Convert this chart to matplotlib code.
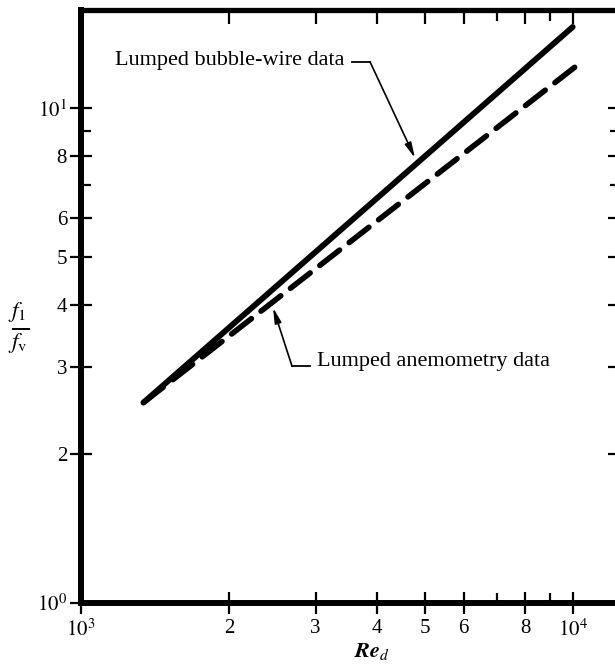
import matplotlib
matplotlib.use("Agg")
import matplotlib.pyplot as plt
from matplotlib.ticker import FixedLocator, NullFormatter, FixedFormatter

plt.rcParams['font.family'] = ['Liberation Serif', 'DejaVu Serif']
plt.rcParams['mathtext.fontset'] = 'stix'

# ---- data ----
re_solid = [1340, 10000]
ratio_solid = [2.54, 14.6]
re_dash = [1340, 10200]
ratio_dash = [2.54, 12.2]

x_major = [1e3, 2e3, 3e3, 4e3, 5e3, 6e3, 8e3, 1e4]
x_major_labels = ['$10^3$', '2', '3', '4', '5', '6', '8', '$10^4$']
x_minor = [7e3, 9e3]
y_major = [1, 2, 3, 4, 5, 6, 8, 10]
y_major_labels = ['$10^0$', '2', '3', '4', '5', '6', '8', '$10^1$']
y_minor = [7, 9]

label_bubble = 'Lumped bubble-wire data'
label_anemo = 'Lumped anemometry data'

fig = plt.figure(figsize=(6.15, 6.72), dpi=100)
W, H = 615, 672
ax = fig.add_axes([81 / W, 69.3 / H, (620 - 81) / W, (602.7 - 10) / H])
ax.set_xscale('log')
ax.set_yscale('log')
ax.set_xlim(1e3, 10 ** (3 + (620 - 81) / 491.7))
ax.set_ylim(1, 15.8)

ax.plot(re_solid, ratio_solid, color='black', lw=4.2, solid_capstyle='round')
ax.plot(re_dash, ratio_dash, color='black', lw=4.0, linestyle=(0, (4.5, 2.2)),
        dash_capstyle='round')

for s in ax.spines.values():
    s.set_linewidth(4.3)
ax.spines['top'].set_linewidth(3.8)

ax.xaxis.set_major_locator(FixedLocator(x_major))
ax.xaxis.set_major_formatter(FixedFormatter(x_major_labels))
ax.xaxis.set_minor_locator(FixedLocator(x_minor))
ax.xaxis.set_minor_formatter(NullFormatter())
ax.yaxis.set_major_locator(FixedLocator(y_major))
ax.yaxis.set_major_formatter(FixedFormatter(y_major_labels))
ax.yaxis.set_minor_locator(FixedLocator(y_minor))
ax.yaxis.set_minor_formatter(NullFormatter())

ax.tick_params(which='major', direction='inout', length=16, width=1.6,
               labelsize=15, pad=2)
ax.tick_params(which='minor', direction='in', length=7, width=1.6)
ax.tick_params(axis='x', pad=4)

# top & right ticks (inward)
axt = ax.twiny()
axt.set_xscale('log')
axt.set_xlim(ax.get_xlim())
axt.xaxis.set_major_locator(FixedLocator(x_major))
axt.xaxis.set_minor_locator(FixedLocator(x_minor))
axt.xaxis.set_major_formatter(NullFormatter())
axt.xaxis.set_minor_formatter(NullFormatter())
axt.tick_params(which='major', direction='in', length=10, width=1.6)
axt.tick_params(which='minor', direction='in', length=8, width=1.6)
for s in axt.spines.values():
    s.set_visible(False)

axr = ax.twinx()
axr.set_yscale('log')
axr.set_ylim(ax.get_ylim())
axr.yaxis.set_major_locator(FixedLocator(y_major[1:]))
axr.yaxis.set_minor_locator(FixedLocator(y_minor))
axr.yaxis.set_major_formatter(NullFormatter())
axr.yaxis.set_minor_formatter(NullFormatter())
axr.tick_params(which='major', direction='in', length=9, width=1.6)
axr.tick_params(which='minor', direction='in', length=7, width=1.6)
for s in axr.spines.values():
    s.set_visible(False)

# annotations
ax.text(1172, 12.47, label_bubble, fontsize=16, va='center', ha='left')
ax.plot([3556, 3871], [12.41, 12.41], color='black', lw=1.3)
ax.annotate('', xy=(4778, 7.93), xytext=(3871, 12.41),
            arrowprops=dict(arrowstyle='-|>,head_length=0.9,head_width=0.2',
                            color='black', lw=1.2, shrinkA=0, shrinkB=0))

ax.text(3020, 3.07, label_anemo, fontsize=16, va='center', ha='left')
ax.plot([2686, 2922], [3.01, 3.01], color='black', lw=1.3)
ax.annotate('', xy=(2458, 3.95), xytext=(2686, 3.01),
            arrowprops=dict(arrowstyle='-|>,head_length=0.9,head_width=0.2',
                            color='black', lw=1.2, shrinkA=0, shrinkB=0))

fig.text(19 / W, 1 - 328 / H, r'$\frac{f_1}{f_{\rm v}}$', fontsize=24,
         ha='center', va='center')
fig.text(372 / W, 1 - 652 / H, r'$\mathbfit{Re}_{d}$', fontsize=16,
         ha='center', va='center')

fig.savefig('out.png', dpi=100)
